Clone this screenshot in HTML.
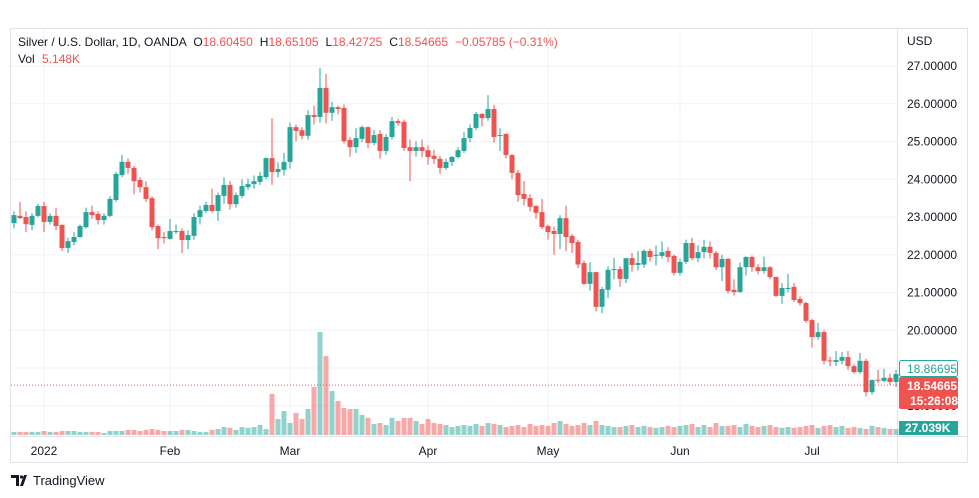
<!DOCTYPE html>
<html><head><meta charset="utf-8"><style>
body{margin:0;background:#fff;font-family:"Liberation Sans",sans-serif;}
#wrap{position:relative;width:979px;height:498px;overflow:hidden;background:#fff}
svg text{font-family:"Liberation Sans",sans-serif}
</style></head><body>
<div id="wrap">
<svg id="chart" width="979" height="498"></svg>
</div>
<script>
const opens=[22.84,23.03,23.00,22.79,23.03,23.29,22.87,23.03,22.79,22.18,22.34,22.47,22.73,23.13,23.08,22.92,23.03,23.45,24.11,24.46,24.30,23.98,23.79,23.50,22.76,22.47,22.42,22.62,22.63,22.39,22.50,23.00,23.16,23.32,23.16,23.56,23.85,23.34,23.56,23.79,23.87,23.93,24.06,24.56,24.19,24.25,24.46,25.38,25.30,25.15,25.70,25.65,26.42,25.76,25.91,25.89,25.04,24.85,25.07,25.38,24.96,25.20,24.75,25.12,25.54,25.52,24.85,24.75,24.85,24.77,24.62,24.54,24.30,24.46,24.59,24.75,25.09,25.36,25.73,25.62,25.86,25.15,25.20,24.64,24.17,23.61,23.50,23.29,23.13,22.76,22.63,22.55,22.97,22.50,22.34,21.78,21.23,21.54,20.62,21.07,21.60,21.62,21.36,21.91,21.73,21.74,22.10,21.97,21.97,22.10,21.97,21.52,21.81,22.31,21.91,22.07,22.21,22.05,21.67,21.89,21.07,21.01,21.67,21.94,21.67,21.57,21.67,21.41,20.91,21.11,21.15,20.83,20.72,20.27,19.82,19.95,19.20,19.16,19.19,19.29,19.05,18.89,19.19,18.36,18.69,18.66,18.74,18.63];
const closes=[23.05,22.97,22.81,23.03,23.29,22.87,23.03,22.76,22.18,22.36,22.47,22.76,23.13,23.05,22.92,23.03,23.48,24.14,24.46,24.30,23.95,23.79,23.48,22.73,22.44,22.44,22.63,22.63,22.39,22.52,23.00,23.18,23.32,23.16,23.58,23.85,23.34,23.58,23.82,23.87,23.95,24.09,24.56,24.19,24.27,24.46,25.38,25.28,25.15,25.70,25.65,26.42,25.76,25.91,25.86,25.01,24.85,25.09,25.38,24.96,25.17,24.75,25.12,25.54,25.49,24.83,24.75,24.85,24.75,24.59,24.54,24.30,24.46,24.59,24.77,25.09,25.36,25.73,25.62,25.86,25.12,25.17,24.64,24.17,23.58,23.48,23.27,23.11,22.73,22.60,22.55,22.97,22.47,22.31,21.74,21.23,21.54,20.62,21.09,21.60,21.62,21.36,21.91,21.73,21.78,22.10,21.94,22.00,22.07,21.94,21.52,21.81,22.31,21.91,22.07,22.21,22.05,21.67,21.89,21.04,21.01,21.67,21.94,21.67,21.57,21.67,21.41,20.91,21.12,21.12,20.80,20.72,20.25,19.82,19.95,19.19,19.19,19.21,19.29,19.05,18.89,19.19,18.36,18.68,18.68,18.74,18.63,18.84];
const highs=[23.15,23.40,23.15,23.10,23.35,23.40,23.10,23.25,22.80,22.45,22.60,22.80,23.25,23.30,23.15,23.10,23.55,24.20,24.65,24.55,24.35,24.05,23.95,23.55,22.80,22.60,22.95,22.80,22.70,22.65,23.10,23.30,23.40,23.75,23.65,24.05,23.95,23.65,24.00,24.02,24.10,24.20,24.58,25.62,24.45,24.70,25.50,25.45,25.38,25.83,25.95,26.95,26.79,26.05,25.95,25.98,25.12,25.35,25.42,25.40,25.30,25.30,25.20,25.65,25.60,25.58,25.05,25.00,25.05,24.90,24.78,24.62,24.55,24.62,24.85,25.25,25.45,25.78,25.75,26.23,25.97,25.35,25.22,24.67,24.25,23.95,23.60,23.32,23.48,22.80,22.75,23.05,23.30,22.55,22.40,21.85,21.80,21.55,21.15,21.70,21.92,21.70,21.92,22.05,22.10,22.15,22.16,22.25,22.35,22.20,22.00,21.90,22.40,22.45,22.25,22.40,22.35,22.10,22.00,21.92,21.35,21.80,21.96,21.98,21.75,21.95,21.70,21.42,21.25,21.50,21.25,20.90,20.75,20.30,20.20,20.00,19.30,19.45,19.42,19.45,19.10,19.40,19.25,18.70,18.95,18.98,18.85,18.95];
const lows=[22.70,22.95,22.60,22.65,23.00,22.60,22.80,22.65,22.10,22.05,22.25,22.45,22.70,22.95,22.80,22.80,23.00,23.40,24.05,24.15,23.60,23.65,23.40,22.65,22.15,22.30,22.40,22.55,22.05,22.15,22.40,22.80,23.10,23.12,22.90,23.35,23.20,23.25,23.50,23.72,23.75,23.85,24.00,23.85,24.05,24.10,24.28,25.00,25.05,25.05,25.45,25.50,25.48,25.55,25.72,24.95,24.60,24.70,24.98,24.82,24.90,24.55,24.65,25.05,25.42,24.75,23.95,24.60,24.58,24.38,24.40,24.15,24.25,24.35,24.55,24.70,24.98,25.30,25.40,25.55,24.97,24.75,24.55,24.00,23.40,23.30,23.15,22.95,22.68,22.40,22.00,22.15,22.10,22.05,21.65,21.20,21.05,20.50,20.45,20.85,21.35,21.15,21.25,21.55,21.58,21.65,21.82,21.72,21.90,21.80,21.45,21.45,21.75,21.85,21.80,21.90,21.90,21.60,21.30,20.98,20.92,21.00,21.45,21.55,21.48,21.50,21.35,20.88,20.70,21.00,20.75,20.65,20.20,19.55,19.75,19.10,19.05,19.05,19.10,18.95,18.85,18.85,18.25,18.30,18.60,18.62,18.55,18.50];
const volumesK=[14,14,14,14,14,18,14,14,18,18,18,14,14,14,14,9,18,18,18,23,23,18,23,27,23,18,18,18,23,23,18,14,14,23,27,36,32,23,36,32,36,45,27,185,72,108,54,99,72,117,216,464,356,198,153,122,117,117,90,77,50,54,45,77,63,77,77,63,50,72,54,50,45,36,41,45,41,50,41,54,50,45,36,41,45,36,50,41,45,41,54,63,50,41,45,54,45,63,45,41,36,36,41,45,36,41,36,32,36,41,36,41,45,50,36,45,36,54,41,41,45,36,50,41,36,41,45,36,32,36,32,36,41,45,32,41,45,36,41,32,36,32,27,41,36,32,27,27];
const priceTicks=[27,26,25,24,23,22,21,20];
const monthLabels=["2022","Feb","Mar","Apr","May","Jun","Jul"];
const monthIndex=[5,26,46,69,89,111,133];

const NS="http://www.w3.org/2000/svg";
const svg=document.getElementById('chart');
const X0=14,STEP=6,PY0=66,PPU=37.75,VBASE=435,VPX=0.222;
const xS=i=>X0+i*STEP;
const yS=p=>PY0+(27-p)*PPU;
const vS=v=>v*VPX;
function el(tag,attrs,parent){const e=document.createElementNS(NS,tag);for(const k in attrs)e.setAttribute(k,attrs[k]);(parent||svg).appendChild(e);return e;}
const GREEN="#26a69a",RED="#ef5350";

// frame
const frame=el('rect',{x:10.5,y:28.5,width:957,height:434,fill:'none',stroke:'#e0e3eb'});


// horizontal grid
for(let p=27;p>=18;p--){const g=el('line',{x1:11,x2:897,y1:yS(p),y2:yS(p),stroke:'#f0f3fa'});

}
monthIndex.forEach((mi,k)=>{const g=el('line',{x1:xS(mi),x2:xS(mi),y1:29,y2:435,stroke:'#f0f3fa'});


const t=el('text',{x:xS(mi),y:455,'text-anchor':'middle','font-size':12,fill:'#131722'});t.textContent=monthLabels[k];

});
el('line',{x1:11,x2:967,y1:436.5,y2:436.5,stroke:'#e0e3eb'});
el('line',{x1:897.5,x2:897.5,y1:29,y2:462,stroke:'#e0e3eb'});
// price ticks
priceTicks.forEach(p=>{const t=el('text',{x:907,y:yS(p)+4,'font-size':12,fill:'#131722'});t.textContent=p.toFixed(5);

});
const t18=el('text',{x:907,y:yS(18)+4,'font-size':12,fill:'#131722'});t18.textContent='18.00000';


const usd=el('text',{x:907,y:45,'font-size':12,fill:'#131722'});usd.textContent='USD';


// volume
volumesK.forEach((v,i)=>{const up=closes[i]>=opens[i];const h=vS(v);
const r=el('rect',{x:xS(i)-2.5,y:VBASE-h,width:5,height:h,fill:up?'rgba(38,166,154,0.5)':'rgba(239,83,80,0.5)'});

});
// candles
opens.forEach((o,i)=>{const c=closes[i],up=c>=o,col=up?GREEN:RED,x=xS(i);
const g=el('g',{});


el('line',{x1:x,x2:x,y1:yS(highs[i]),y2:yS(lows[i]),stroke:col,'stroke-width':1},g);
const top=yS(Math.max(o,c)),bot=yS(Math.min(o,c));
el('rect',{x:x-2.5,y:top,width:5,height:Math.max(1,bot-top),fill:col},g);});
// last price line
const lp=18.54665;
const pl=el('line',{x1:11,x2:897,y1:yS(lp),y2:yS(lp),stroke:RED,'stroke-dasharray':'1,2'});


const b1=el('rect',{x:899.5,y:360.5,width:58,height:16,rx:2,fill:'#fff',stroke:GREEN});


const bt=el('text',{x:907,y:373,'font-size':12,fill:GREEN});bt.textContent='18.86695';
const b2=el('rect',{x:899,y:377,width:59,height:32,rx:2,fill:RED});


const lt=el('text',{x:907,y:390,'font-size':12,'font-weight':'bold',fill:'#fff'});lt.textContent='18.54665';
const ct=el('text',{x:910,y:405,'font-size':12,'font-weight':'bold',fill:'#fff'});ct.textContent='15:26:08';
const b3=el('rect',{x:899,y:421,width:59,height:14,fill:GREEN});


const vt=el('text',{x:905,y:432,'font-size':12,'font-weight':'bold',fill:'#fff'});vt.textContent='27.039K';
// header
const h=el('text',{x:18,y:46,'font-size':12,fill:'#131722'});


h.innerHTML='Silver / U.S. Dollar, 1D, OANDA <tspan dx="4">O</tspan><tspan fill="#ef5350">18.60450</tspan><tspan dx="7">H</tspan><tspan fill="#ef5350">18.65105</tspan><tspan dx="7">L</tspan><tspan fill="#ef5350">18.42725</tspan><tspan dx="7">C</tspan><tspan fill="#ef5350">18.54665</tspan><tspan dx="7" fill="#ef5350">−0.05785 (−0.31%)</tspan>';
const v=el('text',{x:18,y:63,'font-size':12,fill:'#131722'});


v.innerHTML='Vol <tspan dx="4" fill="#ef5350">5.148K</tspan>';
// logo
const lg=el('g',{});


el('path',{d:'M11 475h8v11h-3v-8h-5z M20 486l4-11h3l-4 11z',fill:'#131722'},lg);
el('circle',{cx:21.5,cy:477,r:1.6,fill:'#131722'},lg);
const lt2=el('text',{x:33,y:485,'font-size':13,fill:'#131722'},lg);lt2.textContent='TradingView';
</script>
</body></html>
